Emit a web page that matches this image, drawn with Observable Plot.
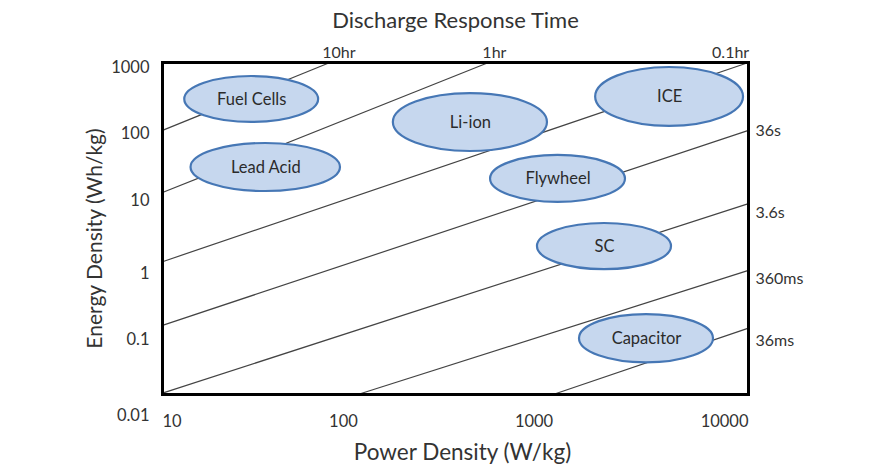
<!DOCTYPE html>
<html>
<head>
<meta charset="utf-8">
<script src="https://cdn.jsdelivr.net/npm/d3@7"></script>
<script src="https://cdn.jsdelivr.net/npm/@observablehq/plot@0.6"></script>
<style>
  html, body { margin: 0; padding: 0; background: #fff; }
</style>
</head>
<body>
<div id="chart"></div>
<script>
// Technologies (ellipses): ranges
const techs = ["Fuel Cells", "Lead Acid", "Li-ion", "ICE", "Flywheel", "SC", "Capacitor"];
const powerMin  = [13, 14, 152, 1650, 478, 831, 1364];
const powerMax  = [63, 81.5, 935, 9430, 2345, 4035, 6620];
const energyMin = [125, 11.4, 45.7, 109, 7.8, 0.76, 0.030];
const energyMax = [615, 60.3, 341, 841, 39.8, 3.76, 0.160];

// Discharge-time lines: endpoints (power W/kg, energy Wh/kg)
const lineP1 = [10, 10, 10, 10, 10, 100, 1000];
const lineE1 = [95, 11, 1, 0.11, 0.0105, 0.01, 0.01];
const lineP2 = [72, 467, 10000, 10000, 10000, 10000, 10000];
const lineE2 = [1000, 1000, 1000, 95, 7.5, 0.74, 0.1];

// Top time labels
const topLabels = ["10hr", "1hr", "0.1hr"];
const topLabelP = [80, 500, 8100];
// Right time labels
const rightLabels = ["36s", "3.6s", "360ms", "36ms"];
const rightLabelE = [95, 5.5, 0.56, 0.065];

// Tick labels
const xTicksStart = [10];
const xTicksEnd = [100, 1000, 10000];
const yTicksA = [1000, 100, 10];
const yTicksB = [1, 0.1];
const yTicksC = [0.01];

const idx = d3.range(lineP1.length);
const fmt = d => String(d);

function ellipses(index, scales) {
  const g = d3.create("svg:g");
  techs.forEach((t, i) => {
    const x1 = scales.x(powerMin[i]), x2 = scales.x(powerMax[i]);
    const y1 = scales.y(energyMin[i]), y2 = scales.y(energyMax[i]);
    g.append("ellipse")
      .attr("cx", (x1 + x2) / 2)
      .attr("cy", (y1 + y2) / 2)
      .attr("rx", Math.abs(x2 - x1) / 2)
      .attr("ry", Math.abs(y1 - y2) / 2)
      .attr("fill", "#c6d7ee")
      .attr("stroke", "#4677b5")
      .attr("stroke-width", 2.2);
  });
  return g.node();
}

const chart = Plot.plot({
  width: 873,
  height: 467,
  marginLeft: 162,
  marginRight: 125,
  marginTop: 62,
  marginBottom: 73,
  style: {fontFamily: "Lato, sans-serif", fontSize: "16px", color: "#333", background: "white"},
  x: {type: "log", domain: [10, 10000], axis: null},
  y: {type: "log", domain: [0.01, 1000], axis: null},
  marks: [
    Plot.link(idx, {
      x1: i => lineP1[i], y1: i => lineE1[i],
      x2: i => lineP2[i], y2: i => lineE2[i],
      stroke: "#444", strokeWidth: 1.2
    }),
    ellipses,
    Plot.text(techs, {
      x: (d, i) => Math.sqrt(powerMin[i] * powerMax[i]),
      y: (d, i) => Math.sqrt(energyMin[i] * energyMax[i]),
      text: d => d, fontSize: 16.5, fill: "#2b2b2b"
    }),
    Plot.frame({stroke: "black", strokeWidth: 3}),
    Plot.axisX(xTicksStart, {tickSize: 0, tickPadding: 21, textAnchor: "start", tickFormat: fmt, label: null, fontSize: 16.5}),
    Plot.axisX(xTicksEnd, {tickSize: 0, tickPadding: 21, textAnchor: "end", tickFormat: fmt, label: null, fontSize: 16.5}),
    Plot.axisY(yTicksA, {tickSize: 0, tickPadding: 13, dy: 5, tickFormat: fmt, label: null, fontSize: 16.5}),
    Plot.axisY(yTicksB, {tickSize: 0, tickPadding: 13, dy: 12, tickFormat: fmt, label: null, fontSize: 16.5}),
    Plot.axisY(yTicksC, {tickSize: 0, tickPadding: 13, dy: 21, tickFormat: fmt, label: null, fontSize: 16.5}),
    Plot.text(topLabels, {x: (d, i) => topLabelP[i], frameAnchor: "top", dy: -16, text: d => d, fontSize: 16}),
    Plot.text(rightLabels, {y: (d, i) => rightLabelE[i], frameAnchor: "right", dx: 7, textAnchor: "start", text: d => d, fontSize: 16}),
    Plot.text(["Discharge Response Time"], {frameAnchor: "top", dy: -50, text: d => d, fontSize: 22}),
    Plot.text(["Power Density (W/kg)"], {frameAnchor: "bottom", dx: 7, dy: 65, text: d => d, fontSize: 22.5}),
    Plot.text(["Energy Density (Wh/kg)"], {frameAnchor: "left", textAnchor: "middle", dx: -67, dy: 10, rotate: -90, text: d => d, fontSize: 21})
  ]
});
document.getElementById("chart").appendChild(chart);
</script>
</body>
</html>
